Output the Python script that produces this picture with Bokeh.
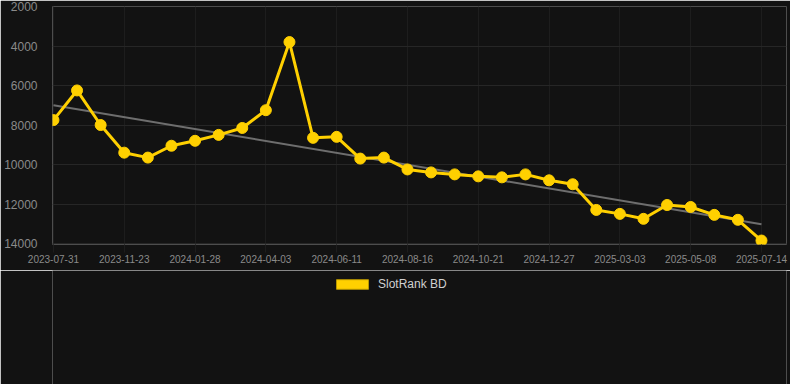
from bokeh.plotting import figure
from bokeh.models import Range1d, FixedTicker, Legend, LegendItem
from bokeh.layouts import column
from bokeh.embed import file_html
from bokeh.resources import INLINE

# ---- data ----
dates = ["2023-07-31", "2023-09-07", "2023-10-15", "2023-11-23", "2023-12-15", "2024-01-06",
         "2024-01-28", "2024-02-19", "2024-03-12", "2024-04-03", "2024-04-26", "2024-05-19",
         "2024-06-11", "2024-07-03", "2024-07-25", "2024-08-16", "2024-09-07", "2024-09-29",
         "2024-10-21", "2024-11-12", "2024-12-05", "2024-12-27", "2025-01-18", "2025-02-09",
         "2025-03-03", "2025-03-25", "2025-04-16", "2025-05-08", "2025-05-30", "2025-06-22",
         "2025-07-14"]
rank = [7750, 6250, 8000, 9400, 9650, 9050, 8800, 8500, 8150, 7250,
        3800, 8650, 8600, 9700, 9650, 10250, 10400, 10500, 10600, 10650,
        10500, 10800, 11000, 12300, 12500, 12750, 12050, 12150, 12550, 12800,
        13850]
trend_values = [7000, 13020]
y_ticks = [2000, 4000, 6000, 8000, 10000, 12000, 14000]
series_name = "SlotRank BD"

x = list(range(len(dates)))
tick_idx = x[::3]
trend_x = [x[0], x[-1]]

BG = "#121212"
GOLD = "#FFD000"
GRID = "#262626"

# ---- main chart ----
p = figure(width=790, height=270, output_backend="svg", toolbar_location=None,
           x_range=Range1d(-0.04, 31.06), y_range=Range1d(14050, 2000),
           background_fill_color=BG, border_fill_color=BG,
           min_border_left=52, min_border_right=4, min_border_top=6, min_border_bottom=26)
p.outline_line_color = None

p.ygrid.ticker = FixedTicker(ticks=y_ticks)
p.ygrid.grid_line_color = GRID
p.ygrid.grid_line_width = 1
p.xgrid.ticker = FixedTicker(ticks=tick_idx)
p.xgrid.grid_line_color = "#1d1d1d"
p.xgrid.grid_line_width = 1

p.yaxis.ticker = FixedTicker(ticks=y_ticks)
p.yaxis.axis_line_color = None
p.yaxis.major_tick_line_color = None
p.yaxis.minor_tick_line_color = None
p.yaxis.major_label_standoff = 9
p.yaxis.major_label_text_color = "#8a8a8a"
p.yaxis.major_label_text_font = "Liberation Sans"
p.yaxis.major_label_text_font_size = "12px"

p.xaxis.ticker = FixedTicker(ticks=tick_idx)
p.xaxis.major_label_overrides = {i: dates[i] for i in tick_idx}
p.xaxis.axis_line_color = None
p.xaxis.major_tick_line_color = "#1d1d1d"
p.xaxis.major_tick_in = 0
p.xaxis.major_tick_out = 8
p.xaxis.minor_tick_line_color = None
p.xaxis.major_label_standoff = 2
p.xaxis.major_label_text_color = "#8a8a8a"
p.xaxis.major_label_text_font = "Liberation Sans"
p.xaxis.major_label_text_font_size = "10px"

p.line(trend_x, trend_values, line_color="#6e6e6e", line_width=2)
p.line(x, rank, line_color=GOLD, line_width=3)
p.scatter(x, rank, size=11, fill_color=GOLD, line_color=GOLD)

# ---- legend strip below the chart ----
lg = figure(width=790, height=114, output_backend="svg", toolbar_location=None,
            x_range=Range1d(0, 1), y_range=Range1d(0, 1),
            x_axis_type=None, y_axis_type=None,
            background_fill_color=BG, border_fill_color=BG,
            min_border_left=0, min_border_right=0, min_border_top=0, min_border_bottom=0)
lg.outline_line_color = None
lg.xgrid.visible = False
lg.ygrid.visible = False

# hidden area renderer of the series, used only for the legend swatch
swatch = lg.quad(left=x, right=x, top=rank, bottom=rank,
                 fill_color=GOLD, line_color="#b89600", line_width=1, visible=False)

legend = Legend(items=[LegendItem(label=series_name, renderers=[swatch])],
                orientation="horizontal", location=(280, 93),
                background_fill_alpha=0, border_line_alpha=0,
                inactive_fill_alpha=0,
                label_text_color="#d0d0d0", label_text_font="Liberation Sans",
                label_text_font_size="12px", glyph_width=40, glyph_height=12,
                margin=0, padding=0, label_standoff=6)
lg.add_layout(legend, "center")

layout = column(p, lg, spacing=0)
open("out.html", "w").write(file_html(layout, INLINE))
